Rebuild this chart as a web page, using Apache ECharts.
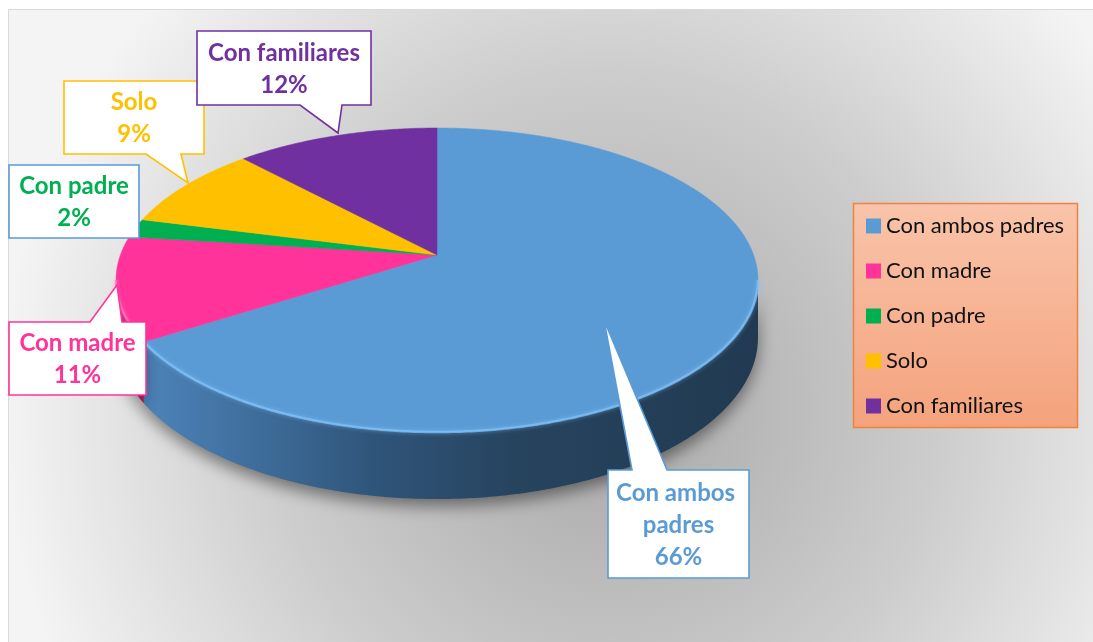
<!DOCTYPE html>
<html>
<head>
<meta charset="utf-8">
<script src="https://cdn.jsdelivr.net/npm/echarts@6/dist/echarts.min.js"></script>
<style>
  html, body { margin: 0; padding: 0; background: #ffffff; }
  #chart { width: 1093px; height: 642px; }
</style>
</head>
<body>
<div id="chart"></div>
<script>
// Living arrangement shares (percent)
const categories = ['Con ambos padres', 'Con madre', 'Con padre', 'Solo', 'Con familiares'];
const percentages = [66, 11, 2, 9, 12];

// Styling per slice
const sliceColors = ['#5b9bd5', '#ff3399', '#00b050', '#ffc000', '#7030a0'];
const wallColors = [
  ['#4d84ba', '#2f5479', '#27445f', '#213a51'],
  ['#d72a82', '#c0246f', '#a81f60', '#951a55'],
  ['#009a45', '#008a3d', '#007a36', '#006b30'],
  ['#e0a800', '#c99600', '#b58700', '#a07800'],
  ['#5f2888', '#532378', '#471e68', '#3c1958']
];
const rimColors = ['rgba(130,195,250,0.75)', 'rgba(255,120,190,0.75)', 'rgba(90,220,140,0.75)', 'rgba(255,220,110,0.75)', 'rgba(160,100,210,0.75)'];
const labelBorders = ['#5b9bd5', '#ff3399', '#5b9bd5', '#ffc000', '#7030a0'];

// Callout boxes: box rectangle, which edge carries the pointer, pointer base and tip
const calloutLayout = [
  { x: 608, y: 470, w: 141, h: 108, side: 'top', base: [632, 667], tip: [604, 320] },
  { x: 9, y: 322, w: 137, h: 73, side: 'top', base: [90, 122], tip: [117, 285] },
  { x: 9, y: 165, w: 130, h: 73, side: null },
  { x: 64, y: 81, w: 140, h: 73, side: 'bottom', base: [146, 181], tip: [188, 183] },
  { x: 197, y: 31, w: 174, h: 74, side: 'bottom', base: [300, 342], tip: [338, 133] }
];

// Tilted-disc projection of the pie
const PIE = { cx: 437, cy: 255, a: 316.6, b: 147.9, k: 0.1645, depth: 56 };
const TH_R = Math.acos(-PIE.k);            // right silhouette angle
const TH_L = 2 * Math.PI - TH_R;           // left silhouette angle

function project(theta, drop) {
  const u = Math.sin(theta);
  const v = -Math.cos(theta);
  const s = 1 / (1 - PIE.k * v);
  return [PIE.cx + PIE.a * u * s, PIE.cy + PIE.b * v * s + drop * PIE.depth * s];
}

function arcPoints(t0, t1, drop) {
  const pts = [];
  const n = Math.max(2, Math.ceil((t1 - t0) / 0.01));
  for (let j = 0; j <= n; j++) pts.push(project(t0 + (t1 - t0) * j / n, drop));
  return pts;
}

const total = percentages.reduce((s, v) => s + v, 0);

function renderSlice(params, api) {
  const i = params.seriesIndex;
  const value = api.value(0);
  let before = 0;
  for (let j = 0; j < i; j++) before += percentages[j];
  const a0 = before / total * 2 * Math.PI;
  const a1 = (before + value) / total * 2 * Math.PI;
  const children = [];

  // outer side wall (only the part facing the viewer)
  const w0 = Math.max(a0, TH_R), w1 = Math.min(a1, TH_L);
  if (w1 > w0) {
    const topEdge = arcPoints(w0, w1, 0);
    const bottomEdge = arcPoints(w0, w1, 1).reverse();
    const wc = wallColors[i];
    children.push({
      type: 'polygon', z2: 1,
      shape: { points: topEdge.concat(bottomEdge) },
      style: {
        fill: { type: 'linear', x: 1, y: 0, x2: 0, y2: 0,
          colorStops: [
            { offset: 0, color: wc[3] }, { offset: 0.4, color: wc[2] },
            { offset: 0.62, color: wc[1] }, { offset: 1, color: wc[0] }] },
        shadowBlur: 16, shadowColor: 'rgba(0,0,0,0.45)', shadowOffsetY: 7
      }
    });
    children.push({
      type: 'polyline', z2: 6,
      shape: { points: topEdge },
      style: { fill: null, stroke: rimColors[i], lineWidth: 2.5, shadowBlur: 4, shadowColor: rimColors[i] }
    });
  }

  // top face
  const face = [[PIE.cx, PIE.cy]].concat(arcPoints(a0, a1, 0));
  children.push({
    type: 'polygon', z2: 5,
    shape: { points: face },
    style: { fill: sliceColors[i], stroke: sliceColors[i], lineWidth: 0.5 }
  });

  // callout
  const c = calloutLayout[i];
  let outline;
  if (c.side === 'bottom') {
    outline = [[c.x, c.y], [c.x + c.w, c.y], [c.x + c.w, c.y + c.h], [c.base[1], c.y + c.h], c.tip, [c.base[0], c.y + c.h], [c.x, c.y + c.h]];
  } else if (c.side === 'top') {
    outline = [[c.x, c.y], [c.base[0], c.y], c.tip, [c.base[1], c.y], [c.x + c.w, c.y], [c.x + c.w, c.y + c.h], [c.x, c.y + c.h]];
  } else {
    outline = [[c.x, c.y], [c.x + c.w, c.y], [c.x + c.w, c.y + c.h], [c.x, c.y + c.h]];
  }
  children.push({
    type: 'polygon', z2: 20,
    shape: { points: outline },
    style: { fill: '#ffffff', stroke: labelBorders[i], lineWidth: 1.6, lineJoin: 'miter' }
  });
  children.push({
    type: 'text', z2: 21,
    style: {
      x: c.x + c.w / 2, y: c.y + c.h / 2 + 1,
      text: categories[i] + '\n' + value + '%',
      fill: sliceColors[i],
      fontFamily: 'Lato', fontWeight: 'bold', fontSize: 24, lineHeight: 32,
      align: 'center', verticalAlign: 'middle',
      width: c.w - 6, overflow: 'break'
    }
  });

  return { type: 'group', children: children };
}

const chart = echarts.init(document.getElementById('chart'), null, { renderer: 'canvas' });

chart.setOption({
  animation: false,
  color: sliceColors,
  graphic: [
    {
      type: 'rect', z: 0, silent: true,
      shape: { x: 8.5, y: 9.5, width: 1090, height: 640 },
      style: {
        fill: { type: 'radial', x: 0.55, y: 0.62, r: 0.95,
          colorStops: [{ offset: 0, color: '#a8a8a8' }, { offset: 0.55, color: '#cdcdcd' }, { offset: 1, color: '#f4f4f4' }] },
        stroke: '#d9d9d9', lineWidth: 1
      }
    },
    {
      type: 'rect', z: 1, silent: true,
      shape: { x: 853.5, y: 203.5, width: 224, height: 224 },
      style: {
        fill: { type: 'linear', x: 0, y: 0, x2: 0, y2: 1,
          colorStops: [{ offset: 0, color: '#f9c4aa' }, { offset: 1, color: '#f4a27c' }] },
        stroke: '#ee8240', lineWidth: 1.5
      }
    }
  ],
  legend: {
    orient: 'vertical',
    left: 866, top: 215,
    padding: 0,
    itemWidth: 15, itemHeight: 15, itemGap: 23,
    icon: 'rect',
    selectedMode: false,
    data: categories,
    z: 5,
    textStyle: { fontFamily: 'Lato', fontSize: 22, lineHeight: 22, color: '#111111' }
  },
  series: categories.map((name, i) => ({
    type: 'custom',
    name: name,
    coordinateSystem: 'none',
    silent: true,
    z: 2,
    itemStyle: { color: sliceColors[i] },
    data: [percentages[i]],
    renderItem: renderSlice
  }))
});
</script>
</body>
</html>
